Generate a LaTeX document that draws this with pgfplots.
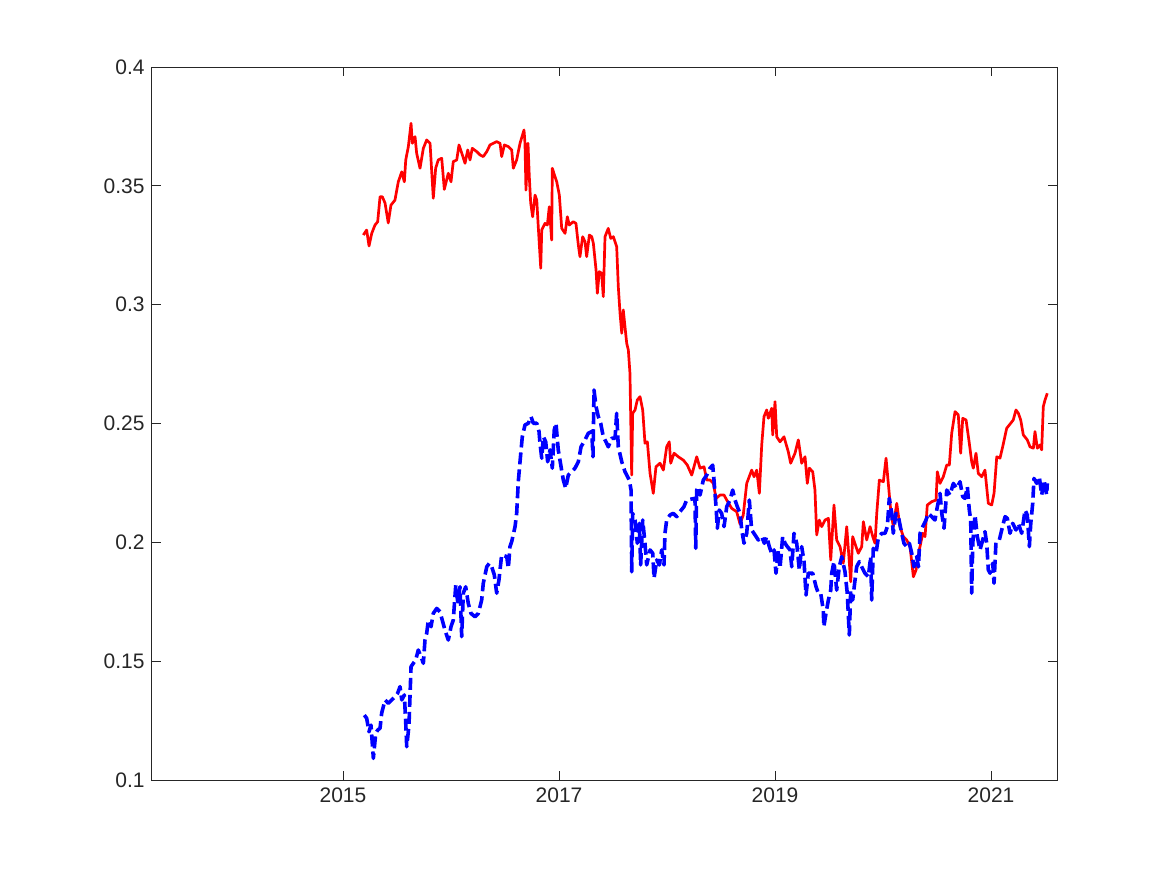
\documentclass[border=0pt]{standalone}
\usepackage{fontspec}
\setmainfont{Liberation Sans}
\usepackage{pgfplots}
\pgfplotsset{compat=1.18}
\definecolor{axgray}{rgb}{0.15,0.15,0.15}
\begin{document}
\fontsize{10.5}{12}\selectfont
\begin{tikzpicture}
\path[use as bounding box] (-76pt,-47.5pt) rectangle (507.5pt,390pt);
\begin{axis}[at={(0,0)}, anchor=south west, scale only axis,
 width=452.5pt, height=356.5pt,
 xmin=2013.2315, xmax=2021.611, ymin=0.1, ymax=0.4,
 xtick={2015,2017,2019,2021}, xticklabels={2015,2017,2019,2021},
 ytick={0.1,0.15,0.2,0.25,0.3,0.35,0.4},
 yticklabels={0.1,0.15,0.2,0.25,0.3,0.35,0.4},
 tick align=inside, major tick length=4.5pt,
 axis line style={axgray, line width=0.5pt},
 tick style={axgray, line width=0.5pt},
 ticklabel style={text=axgray, font=\fontsize{10.5}{12}\selectfont},
 /pgf/number format/assume math mode=true,
 clip=true]
\addplot[red, line width=1.35pt, line join=round] table {
2015.188 0.3293
2015.219 0.3314
2015.241 0.3247
2015.266 0.3300
2015.296 0.3335
2015.321 0.3349
2015.343 0.3454
2015.364 0.3454
2015.389 0.3428
2015.419 0.3344
2015.444 0.3419
2015.481 0.3440
2015.512 0.3517
2015.544 0.3559
2015.568 0.3517
2015.581 0.3609
2015.605 0.3665
2015.630 0.3763
2015.642 0.3679
2015.667 0.3707
2015.682 0.3637
2015.713 0.3574
2015.744 0.3658
2015.775 0.3693
2015.806 0.3679
2015.836 0.3448
2015.858 0.3574
2015.882 0.3609
2015.914 0.3616
2015.938 0.3485
2015.975 0.3553
2016.000 0.3517
2016.021 0.3602
2016.053 0.3609
2016.074 0.3672
2016.105 0.3630
2016.130 0.3595
2016.155 0.3651
2016.176 0.3609
2016.197 0.3658
2016.238 0.3644
2016.269 0.3630
2016.299 0.3623
2016.331 0.3644
2016.361 0.3672
2016.423 0.3686
2016.454 0.3679
2016.469 0.3623
2016.494 0.3672
2016.531 0.3665
2016.562 0.3651
2016.577 0.3574
2016.608 0.3609
2016.639 0.3679
2016.676 0.3735
2016.685 0.3679
2016.694 0.3482
2016.713 0.3679
2016.725 0.3538
2016.738 0.3427
2016.756 0.3370
2016.778 0.3461
2016.794 0.3440
2016.808 0.3328
2016.831 0.3153
2016.840 0.3314
2016.870 0.3342
2016.892 0.3335
2016.910 0.3412
2016.932 0.3272
2016.938 0.3574
2016.963 0.3538
2016.979 0.3517
2017.003 0.3461
2017.025 0.3321
2017.056 0.3300
2017.077 0.3370
2017.095 0.3335
2017.132 0.3349
2017.157 0.3342
2017.179 0.3251
2017.194 0.3202
2017.219 0.3286
2017.241 0.3265
2017.256 0.3202
2017.281 0.3293
2017.303 0.3286
2017.318 0.3258
2017.343 0.3146
2017.355 0.3048
2017.373 0.3139
2017.395 0.3132
2017.410 0.3034
2017.426 0.3286
2017.456 0.3321
2017.479 0.3279
2017.503 0.3286
2017.534 0.3244
2017.549 0.3076
2017.565 0.2964
2017.581 0.2880
2017.595 0.2978
2017.611 0.2907
2017.627 0.2837
2017.642 0.2809
2017.657 0.2711
2017.673 0.2283
2017.682 0.2543
2017.704 0.2557
2017.725 0.2599
2017.750 0.2613
2017.775 0.2557
2017.796 0.2417
2017.818 0.2423
2017.843 0.2290
2017.873 0.2206
2017.898 0.2318
2017.935 0.2333
2017.966 0.2304
2017.997 0.2402
2018.021 0.2423
2018.034 0.2333
2018.065 0.2375
2018.105 0.2360
2018.151 0.2346
2018.188 0.2325
2018.229 0.2283
2018.275 0.2360
2018.306 0.2312
2018.343 0.2318
2018.368 0.2262
2018.398 0.2262
2018.429 0.2248
2018.454 0.2185
2018.491 0.2199
2018.528 0.2199
2018.553 0.2178
2018.599 0.2143
2018.645 0.2129
2018.676 0.2077
2018.706 0.2115
2018.738 0.2248
2018.784 0.2304
2018.806 0.2276
2018.831 0.2304
2018.855 0.2206
2018.877 0.2410
2018.898 0.2529
2018.923 0.2557
2018.938 0.2522
2018.969 0.2564
2018.979 0.2452
2019.000 0.2592
2019.016 0.2444
2019.046 0.2423
2019.083 0.2444
2019.123 0.2381
2019.145 0.2333
2019.185 0.2375
2019.216 0.2431
2019.247 0.2333
2019.278 0.2360
2019.299 0.2248
2019.318 0.2312
2019.349 0.2297
2019.370 0.2220
2019.386 0.2031
2019.410 0.2094
2019.432 0.2066
2019.463 0.2094
2019.494 0.2101
2019.516 0.1926
2019.546 0.2157
2019.571 0.2010
2019.602 0.1982
2019.632 0.1912
2019.664 0.2066
2019.701 0.1834
2019.719 0.2024
2019.750 0.1982
2019.771 0.1954
2019.803 0.1982
2019.818 0.2087
2019.849 0.2010
2019.880 0.2066
2019.905 0.2024
2019.926 0.1996
2019.942 0.2122
2019.966 0.2262
2020.003 0.2255
2020.028 0.2354
2020.049 0.2248
2020.071 0.2136
2020.095 0.2066
2020.127 0.2164
2020.157 0.2066
2020.188 0.2024
2020.219 0.2010
2020.250 0.1982
2020.281 0.1855
2020.306 0.1884
2020.336 0.1968
2020.368 0.2038
2020.389 0.2024
2020.410 0.2157
2020.451 0.2171
2020.491 0.2178
2020.503 0.2297
2020.528 0.2248
2020.558 0.2276
2020.590 0.2325
2020.614 0.2325
2020.636 0.2459
2020.667 0.2550
2020.697 0.2536
2020.719 0.2375
2020.738 0.2522
2020.769 0.2515
2020.799 0.2417
2020.821 0.2339
2020.836 0.2312
2020.861 0.2375
2020.882 0.2290
2020.914 0.2276
2020.944 0.2304
2020.975 0.2164
2021.006 0.2157
2021.028 0.2206
2021.053 0.2360
2021.083 0.2354
2021.108 0.2402
2021.145 0.2480
2021.182 0.2501
2021.206 0.2515
2021.231 0.2557
2021.253 0.2543
2021.275 0.2515
2021.299 0.2452
2021.336 0.2431
2021.361 0.2402
2021.392 0.2396
2021.407 0.2466
2021.429 0.2396
2021.454 0.2410
2021.469 0.2389
2021.484 0.2571
2021.500 0.2599
2021.521 0.2627
};
\addplot[blue, line width=1.8pt, line join=round, dash pattern=on 6pt off 2.5pt] table {
2015.197 0.1273
2015.219 0.1260
2015.241 0.1203
2015.259 0.1231
2015.281 0.1091
2015.303 0.1196
2015.321 0.1210
2015.343 0.1218
2015.358 0.1281
2015.389 0.1337
2015.419 0.1323
2015.451 0.1337
2015.481 0.1350
2015.506 0.1365
2015.528 0.1393
2015.544 0.1337
2015.568 0.1358
2015.581 0.1239
2015.590 0.1140
2015.611 0.1231
2015.630 0.1477
2015.651 0.1491
2015.673 0.1505
2015.697 0.1547
2015.722 0.1519
2015.744 0.1491
2015.759 0.1589
2015.775 0.1617
2015.790 0.1673
2015.815 0.1645
2015.836 0.1701
2015.868 0.1722
2015.898 0.1708
2015.919 0.1673
2015.944 0.1631
2015.975 0.1589
2016.000 0.1645
2016.021 0.1673
2016.044 0.1820
2016.062 0.1750
2016.083 0.1813
2016.099 0.1603
2016.114 0.1786
2016.136 0.1813
2016.160 0.1743
2016.185 0.1701
2016.222 0.1687
2016.253 0.1701
2016.284 0.1757
2016.299 0.1828
2016.331 0.1897
2016.355 0.1912
2016.377 0.1897
2016.401 0.1863
2016.423 0.1786
2016.444 0.1842
2016.469 0.1947
2016.516 0.1940
2016.531 0.1891
2016.546 0.1982
2016.562 0.2003
2016.593 0.2066
2016.608 0.2122
2016.623 0.2255
2016.639 0.2339
2016.660 0.2444
2016.685 0.2494
2016.716 0.2501
2016.741 0.2529
2016.762 0.2501
2016.794 0.2501
2016.815 0.2466
2016.824 0.2417
2016.840 0.2354
2016.855 0.2444
2016.877 0.2423
2016.895 0.2339
2016.917 0.2389
2016.938 0.2312
2016.956 0.2473
2016.972 0.2501
2016.993 0.2389
2017.019 0.2318
2017.040 0.2262
2017.062 0.2227
2017.086 0.2283
2017.118 0.2297
2017.148 0.2312
2017.179 0.2339
2017.204 0.2402
2017.241 0.2431
2017.271 0.2459
2017.303 0.2466
2017.315 0.2360
2017.324 0.2641
2017.343 0.2571
2017.364 0.2529
2017.386 0.2501
2017.410 0.2444
2017.435 0.2423
2017.456 0.2402
2017.488 0.2438
2017.519 0.2438
2017.534 0.2543
2017.549 0.2402
2017.581 0.2339
2017.611 0.2297
2017.651 0.2262
2017.667 0.2220
2017.673 0.1876
2017.682 0.2122
2017.704 0.2094
2017.725 0.1996
2017.744 0.2080
2017.756 0.1905
2017.775 0.2094
2017.796 0.1996
2017.812 0.1905
2017.843 0.1968
2017.868 0.1954
2017.880 0.1849
2017.905 0.1926
2017.929 0.1905
2017.951 0.1968
2017.972 0.1905
2017.981 0.2038
2017.997 0.2094
2018.028 0.2115
2018.058 0.2122
2018.090 0.2108
2018.120 0.2129
2018.157 0.2150
2018.182 0.2178
2018.259 0.2185
2018.266 0.1975
2018.275 0.2220
2018.290 0.2234
2018.306 0.2199
2018.336 0.2262
2018.368 0.2283
2018.398 0.2312
2018.423 0.2325
2018.435 0.2262
2018.454 0.2150
2018.466 0.2059
2018.484 0.2136
2018.506 0.2122
2018.528 0.2066
2018.553 0.2150
2018.583 0.2178
2018.608 0.2220
2018.630 0.2178
2018.651 0.2150
2018.676 0.2122
2018.692 0.2052
2018.713 0.1996
2018.738 0.2038
2018.762 0.2178
2018.784 0.2052
2018.815 0.2031
2018.845 0.2010
2018.877 0.2024
2018.901 0.1996
2018.923 0.2024
2018.947 0.1982
2018.969 0.1954
2018.991 0.1968
2019.009 0.1870
2019.031 0.1968
2019.046 0.1891
2019.071 0.2024
2019.093 0.1996
2019.114 0.1982
2019.139 0.1968
2019.155 0.1897
2019.176 0.2038
2019.201 0.1996
2019.225 0.1884
2019.247 0.1982
2019.269 0.1919
2019.287 0.1778
2019.308 0.1870
2019.349 0.1870
2019.380 0.1813
2019.401 0.1786
2019.423 0.1786
2019.447 0.1715
2019.452 0.1645
2019.472 0.1701
2019.494 0.1757
2019.516 0.1799
2019.525 0.1870
2019.546 0.1919
2019.571 0.1799
2019.595 0.1897
2019.618 0.1940
2019.648 0.1876
2019.669 0.1786
2019.688 0.1610
2019.701 0.1799
2019.719 0.1757
2019.741 0.1842
2019.756 0.1897
2019.781 0.1919
2019.803 0.1897
2019.833 0.1870
2019.864 0.1855
2019.886 0.1940
2019.895 0.1757
2019.910 0.1975
2019.935 0.1954
2019.956 0.2017
2019.988 0.2038
2020.019 0.2038
2020.040 0.2066
2020.058 0.2185
2020.081 0.2122
2020.095 0.2038
2020.120 0.2122
2020.142 0.2108
2020.173 0.2038
2020.194 0.1996
2020.219 0.1982
2020.244 0.1996
2020.266 0.1954
2020.287 0.1897
2020.312 0.1940
2020.328 0.1897
2020.343 0.2038
2020.368 0.2066
2020.398 0.2094
2020.419 0.2122
2020.451 0.2108
2020.481 0.2094
2020.503 0.2150
2020.528 0.2206
2020.544 0.2122
2020.565 0.2059
2020.590 0.2220
2020.620 0.2199
2020.651 0.2248
2020.682 0.2227
2020.713 0.2255
2020.738 0.2192
2020.759 0.2185
2020.781 0.2234
2020.799 0.2136
2020.812 0.2094
2020.821 0.1786
2020.831 0.1996
2020.852 0.2115
2020.873 0.2024
2020.898 0.1968
2020.923 0.2010
2020.944 0.2045
2020.960 0.1996
2020.975 0.1884
2020.991 0.1870
2021.016 0.1912
2021.028 0.1828
2021.046 0.2003
2021.077 0.2010
2021.099 0.2052
2021.130 0.2108
2021.151 0.2101
2021.176 0.2038
2021.201 0.2080
2021.231 0.2052
2021.253 0.2080
2021.284 0.2038
2021.315 0.2136
2021.336 0.2115
2021.355 0.1982
2021.368 0.2080
2021.386 0.2164
2021.398 0.2269
2021.423 0.2248
2021.447 0.2276
2021.469 0.2199
2021.491 0.2262
2021.515 0.2199
2021.521 0.2248
};
\end{axis}
\end{tikzpicture}
\end{document}
